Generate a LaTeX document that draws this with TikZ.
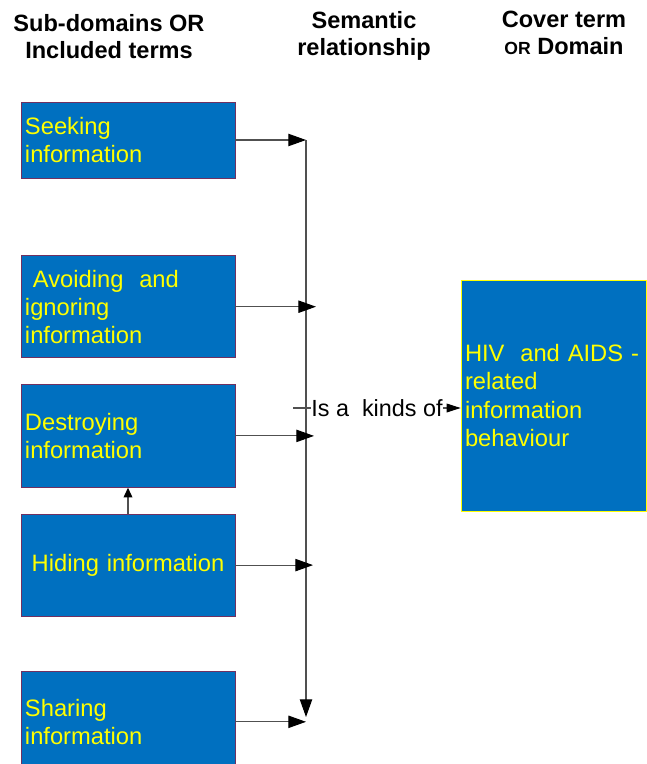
\documentclass[tikz,border=0pt]{standalone}
\usepackage{fontspec}
\setmainfont{Liberation Sans}
\usetikzlibrary{positioning,arrows.meta}
\definecolor{myblue}{RGB}{0,112,192}
\definecolor{myyellow}{RGB}{255,255,0}
\definecolor{myedge}{RGB}{112,48,96}
\definecolor{mygrey}{RGB}{80,80,80}
\tikzstyle{term}=[draw=myedge,fill=myblue,text=myyellow,minimum width=4.28cm,text width=4.12cm,inner xsep=0.08cm,align=left,font=\fontsize{13.5}{16}\selectfont]
\tikzstyle{head}=[align=center,font=\bfseries\fontsize{13.4}{15.4}\selectfont]
\tikzstyle{arr}=[draw=mygrey,line width=0.6pt,-{Triangle[length=10pt,width=7pt,color=black]}]
\tikzstyle{relarr}=[draw=mygrey,line width=0.6pt,-{Triangle[length=8pt,width=5pt,color=black]}]
\tikzstyle{smallarr}=[draw=mygrey,line width=0.6pt,-{Triangle[length=5.5pt,width=5pt,color=black]}]

\begin{document}
\begin{tikzpicture}
  \useasboundingbox (0,0) rectangle (12.92,-15.28);
  \node (H1) [head] at (2.18,-0.74) {Sub-domains OR\\Included terms};
  \node (H2) [head] at (7.28,-0.71) {Semantic\\relationship};
  \node (H3) [head] at (11.28,-0.66) {Cover term\\{\fontsize{10}{15.4}\selectfont OR} Domain};

  \node (S1) [term,minimum height=1.52cm] at (2.56,-2.80) {Seeking\\information};
  \node (S2) [term,minimum height=2.04cm,below=1.54cm of S1] {\ Avoiding\ \ and\\ignoring\\information};
  \node (S3) [term,minimum height=2.06cm,below=0.52cm of S2] {Destroying\\information};
  \node (S4) [term,minimum height=2.04cm,below=0.52cm of S3,align=center] {Hiding information};
  \node (S5) [term,minimum height=2.0cm,below=1.10cm of S4] {Sharing\\information};
  \node (D1) [term,draw=myyellow,minimum width=3.70cm,text width=3.54cm,minimum height=4.62cm] at (11.07,-7.91) {HIV\ \ and AIDS -\\related\\information\\behaviour};

  \coordinate (B1) at (6.12,-2.80);
  \coordinate (B2) at (6.12,-14.34);
  \draw[arr] (S1.east) -- (B1);
  \draw[arr] (B1) -- (B2);
  \draw[arr] (S2.east) -- ([xshift=0.2cm]S2.east -| B1);
  \draw[arr] (S3.east) -- ([xshift=0.16cm]S3.east -| B1);
  \draw[arr] (S4.east) -- ([xshift=0.14cm]S4.east -| B1);
  \draw[arr] (S5.east) -- (S5.east -| B1);
  \draw[smallarr] (S4.north) -- (S3.south);

  \node (R1) [font=\fontsize{13.3}{16}\selectfont,inner sep=0,anchor=west] at (6.22,-8.16) {Is a\ \ kinds of};
  \draw[draw=mygrey,line width=0.6pt] ([xshift=-0.36cm]R1.west) -- (R1.west);
  \draw[relarr] (R1.east) -- (R1.east -| D1.west);
\end{tikzpicture}
\end{document}
